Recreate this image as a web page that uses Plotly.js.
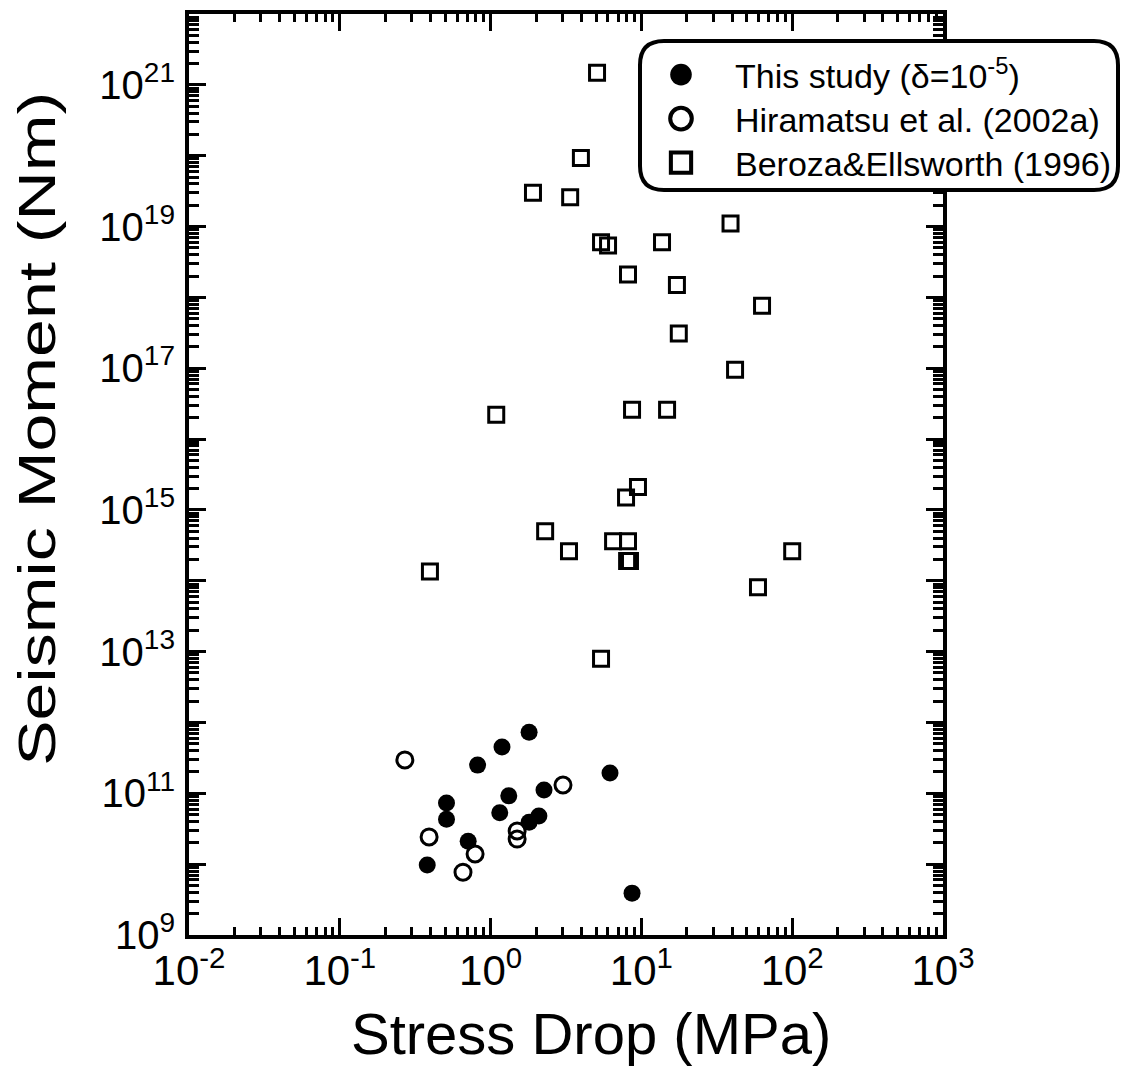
<!DOCTYPE html>
<html>
<head>
<meta charset="utf-8">
<script src="https://cdn.plot.ly/plotly-3.0.1.min.js"></script>
<style>
html,body{margin:0;padding:0;background:#fff;}
#chart{width:1122px;height:1086px;}
</style>
</head>
<body>
<div id="chart"></div>
<script>
// ---- Data (Stress drop in MPa, Seismic moment in Nm) ----
const thisStudyDrop   = [1.80, 1.19, 0.82, 2.26, 1.32, 0.51, 0.51, 1.15, 2.09, 1.80, 0.71, 0.38, 6.19, 8.67];
const thisStudyMoment = [7.3e11, 4.5e11, 2.5e11, 1.11e11, 9.2e10, 7.3e10, 4.3e10, 5.3e10, 4.8e10, 3.9e10, 2.1e10, 9.7e9, 1.94e11, 3.9e9];

const hiramatsuDrop   = [0.270, 3.02, 0.391, 1.50, 1.50, 0.789, 0.656];
const hiramatsuMoment = [2.96e11, 1.31e11, 2.42e10, 2.94e10, 2.26e10, 1.39e10, 7.7e9];

const berozaDrop   = [5.08, 3.97, 1.91, 3.37, 5.40, 6.01, 13.7, 39.0, 8.15, 17.2, 63.1, 17.7, 41.8, 1.09,
                      8.67, 14.8, 9.49, 7.91, 2.30, 6.49, 8.15, 3.31, 8.04, 8.40, 100, 0.396, 59.3, 5.40];
const berozaMoment = [1.48e21, 9.3e19, 3.0e19, 2.6e19, 6.0e18, 5.4e18, 6.0e18, 1.1e19, 2.1e18, 1.5e18, 7.6e17, 3.1e17, 9.5e16, 2.2e16,
                      2.6e16, 2.6e16, 2.1e15, 1.5e15, 5.0e14, 3.6e14, 3.6e14, 2.6e14, 1.9e14, 1.9e14, 2.6e14, 1.35e14, 8.1e13, 7.9e12];

const seriesNames = ['This study (\u03b4=10<sup>-5</sup>)', 'Hiramatsu et al. (2002a)', 'Beroza&Ellsworth (1996)'];

const xTickVals = [0.01, 0.1, 1, 10, 100, 1000];
const xTickText = ['10<sup>-2</sup>', '10<sup>-1</sup>', '10<sup>0</sup>', '10<sup>1</sup>', '10<sup>2</sup>', '10<sup>3</sup>'];
const yTickVals = [1e9,1e10,1e11,1e12,1e13,1e14,1e15,1e16,1e17,1e18,1e19,1e20,1e21,1e22];
const yTickText = ['10<sup>9</sup>','', '10<sup>11</sup>','', '10<sup>13</sup>','', '10<sup>15</sup>','', '10<sup>17</sup>','', '10<sup>19</sup>','', '10<sup>21</sup>',''];

const xTitle = 'Stress Drop (MPa)';
const yTitle = 'Seismic Moment (Nm)';

// ---- minor tick positions (axis decoration) ----
function minorLog(d0, d1){
  const out = [];
  for (let d = d0; d < d1; d++) for (let k = 2; k <= 9; k++) out.push(k * Math.pow(10, d));
  return out;
}

// ---- geometry helpers (plot area in pixels) ----
const W = 1122, H = 1086;
const L = 189, R = 943, T = 14, B = 935;
const px2x = p => (p - L) / (R - L);
const py2y = p => (B - p) / (B - T);

const FONT = 'Liberation Sans, Arial, Helvetica, sans-serif';

function roundedBox(l, t, r, b, rad){
  const X = px2x, Y = py2y;
  return 'M' + X(l+rad) + ',' + Y(t) +
         ' L' + X(r-rad) + ',' + Y(t) +
         ' Q' + X(r) + ',' + Y(t) + ' ' + X(r) + ',' + Y(t+rad) +
         ' L' + X(r) + ',' + Y(b-rad) +
         ' Q' + X(r) + ',' + Y(b) + ' ' + X(r-rad) + ',' + Y(b) +
         ' L' + X(l+rad) + ',' + Y(b) +
         ' Q' + X(l) + ',' + Y(b) + ' ' + X(l) + ',' + Y(b-rad) +
         ' L' + X(l) + ',' + Y(t+rad) +
         ' Q' + X(l) + ',' + Y(t) + ' ' + X(l+rad) + ',' + Y(t) + ' Z';
}

const traces = [
  { x: thisStudyDrop, y: thisStudyMoment, name: seriesNames[0], type: 'scatter', mode: 'markers',
    marker: { symbol: 'circle', size: 17, color: 'black', line: { width: 0 } } },
  { x: hiramatsuDrop, y: hiramatsuMoment, name: seriesNames[1], type: 'scatter', mode: 'markers',
    marker: { symbol: 'circle-open', size: 16, color: 'black', line: { width: 3, color: 'black' } } },
  { x: berozaDrop, y: berozaMoment, name: seriesNames[2], type: 'scatter', mode: 'markers',
    marker: { symbol: 'square-open', size: 15, color: 'black', line: { width: 3, color: 'black' } } }
];

const axisCommon = {
  type: 'log', showgrid: false, zeroline: false,
  showline: true, linewidth: 4, linecolor: 'black', mirror: 'ticks',
  ticks: 'inside', tickwidth: 3, tickcolor: 'black',
  tickmode: 'array', automargin: false
};

const layout = {
  width: W, height: H,
  paper_bgcolor: 'white', plot_bgcolor: 'white',
  margin: { l: L, r: W - R, t: T, b: H - B, pad: 0, autoexpand: false },
  showlegend: true,
  xaxis: Object.assign({}, axisCommon, {
    range: [-2, 3], tickvals: xTickVals, ticktext: xTickText, ticklen: 17,
    ticklabelstandoff: -4,
    tickfont: { family: FONT, size: 42, color: 'black' },
    minor: { tickmode: 'array', tickvals: minorLog(-2, 3), ticks: 'inside', ticklen: 8, tickwidth: 3, tickcolor: 'black', showgrid: false }
  }),
  yaxis: Object.assign({}, axisCommon, {
    range: [9, 22], tickvals: yTickVals, ticktext: yTickText, ticklen: 17,
    ticklabelstandoff: 2,
    tickfont: { family: FONT, size: 40, color: 'black' },
    minor: { tickmode: 'array', tickvals: minorLog(9, 22), ticks: 'inside', ticklen: 10, tickwidth: 3, tickcolor: 'black', showgrid: false }
  }),
  legend: {
    x: px2x(627), y: py2y(46), xanchor: 'left', yanchor: 'top',
    bgcolor: 'rgba(0,0,0,0)', borderwidth: 0,
    itemwidth: 98, tracegroupgap: 0,
    font: { family: FONT, size: 34, color: 'black' }
  },
  shapes: [
    { type: 'path', xref: 'paper', yref: 'paper', layer: 'above',
      path: roundedBox(640, 41, 1118, 190, 24),
      fillcolor: 'white', line: { color: 'black', width: 4 } }
  ],
  annotations: [
    { text: xTitle, xref: 'paper', yref: 'paper', x: px2x(591), y: py2y(1033),
      xanchor: 'center', yanchor: 'middle', showarrow: false,
      font: { family: FONT, size: 58, color: 'black' } },
    { text: yTitle, xref: 'paper', yref: 'paper', x: px2x(37), y: py2y(429),
      xanchor: 'center', yanchor: 'middle', showarrow: false, textangle: -90,
      font: { family: FONT, size: 52, color: 'black' } }
  ]
};

Plotly.newPlot('chart', traces, layout, { displayModeBar: false, staticPlot: true }).then(function(){
  // stretch the vertical title along its reading direction, as in the original figure
  document.querySelectorAll('.annotation-text').forEach(function(el){
    if (el.textContent === yTitle) {
      el.setAttribute('textLength', '674');
      el.setAttribute('lengthAdjust', 'spacingAndGlyphs');
    }
  });
  // legend symbols are drawn larger in the original figure
  document.querySelectorAll('.legend .legendpoints path').forEach(function(el){
    const t = el.getAttribute('transform') || '';
    el.setAttribute('transform', t + ' scale(1.35)');
  });
  // tighter legend row spacing, as in the original figure
  const items = Array.from(document.querySelectorAll('.legend .traces'));
  let y0 = null;
  items.forEach(function(el, i){
    const t = el.getAttribute('transform') || '';
    const m = t.match(/translate\(\s*([-\d.]+)[ ,]+([-\d.]+)\s*\)/);
    if (!m) return;
    if (y0 === null) y0 = parseFloat(m[2]);
    el.setAttribute('transform', 'translate(' + m[1] + ',' + (y0 + i * 44) + ')');
  });
});
</script>
</body>
</html>
